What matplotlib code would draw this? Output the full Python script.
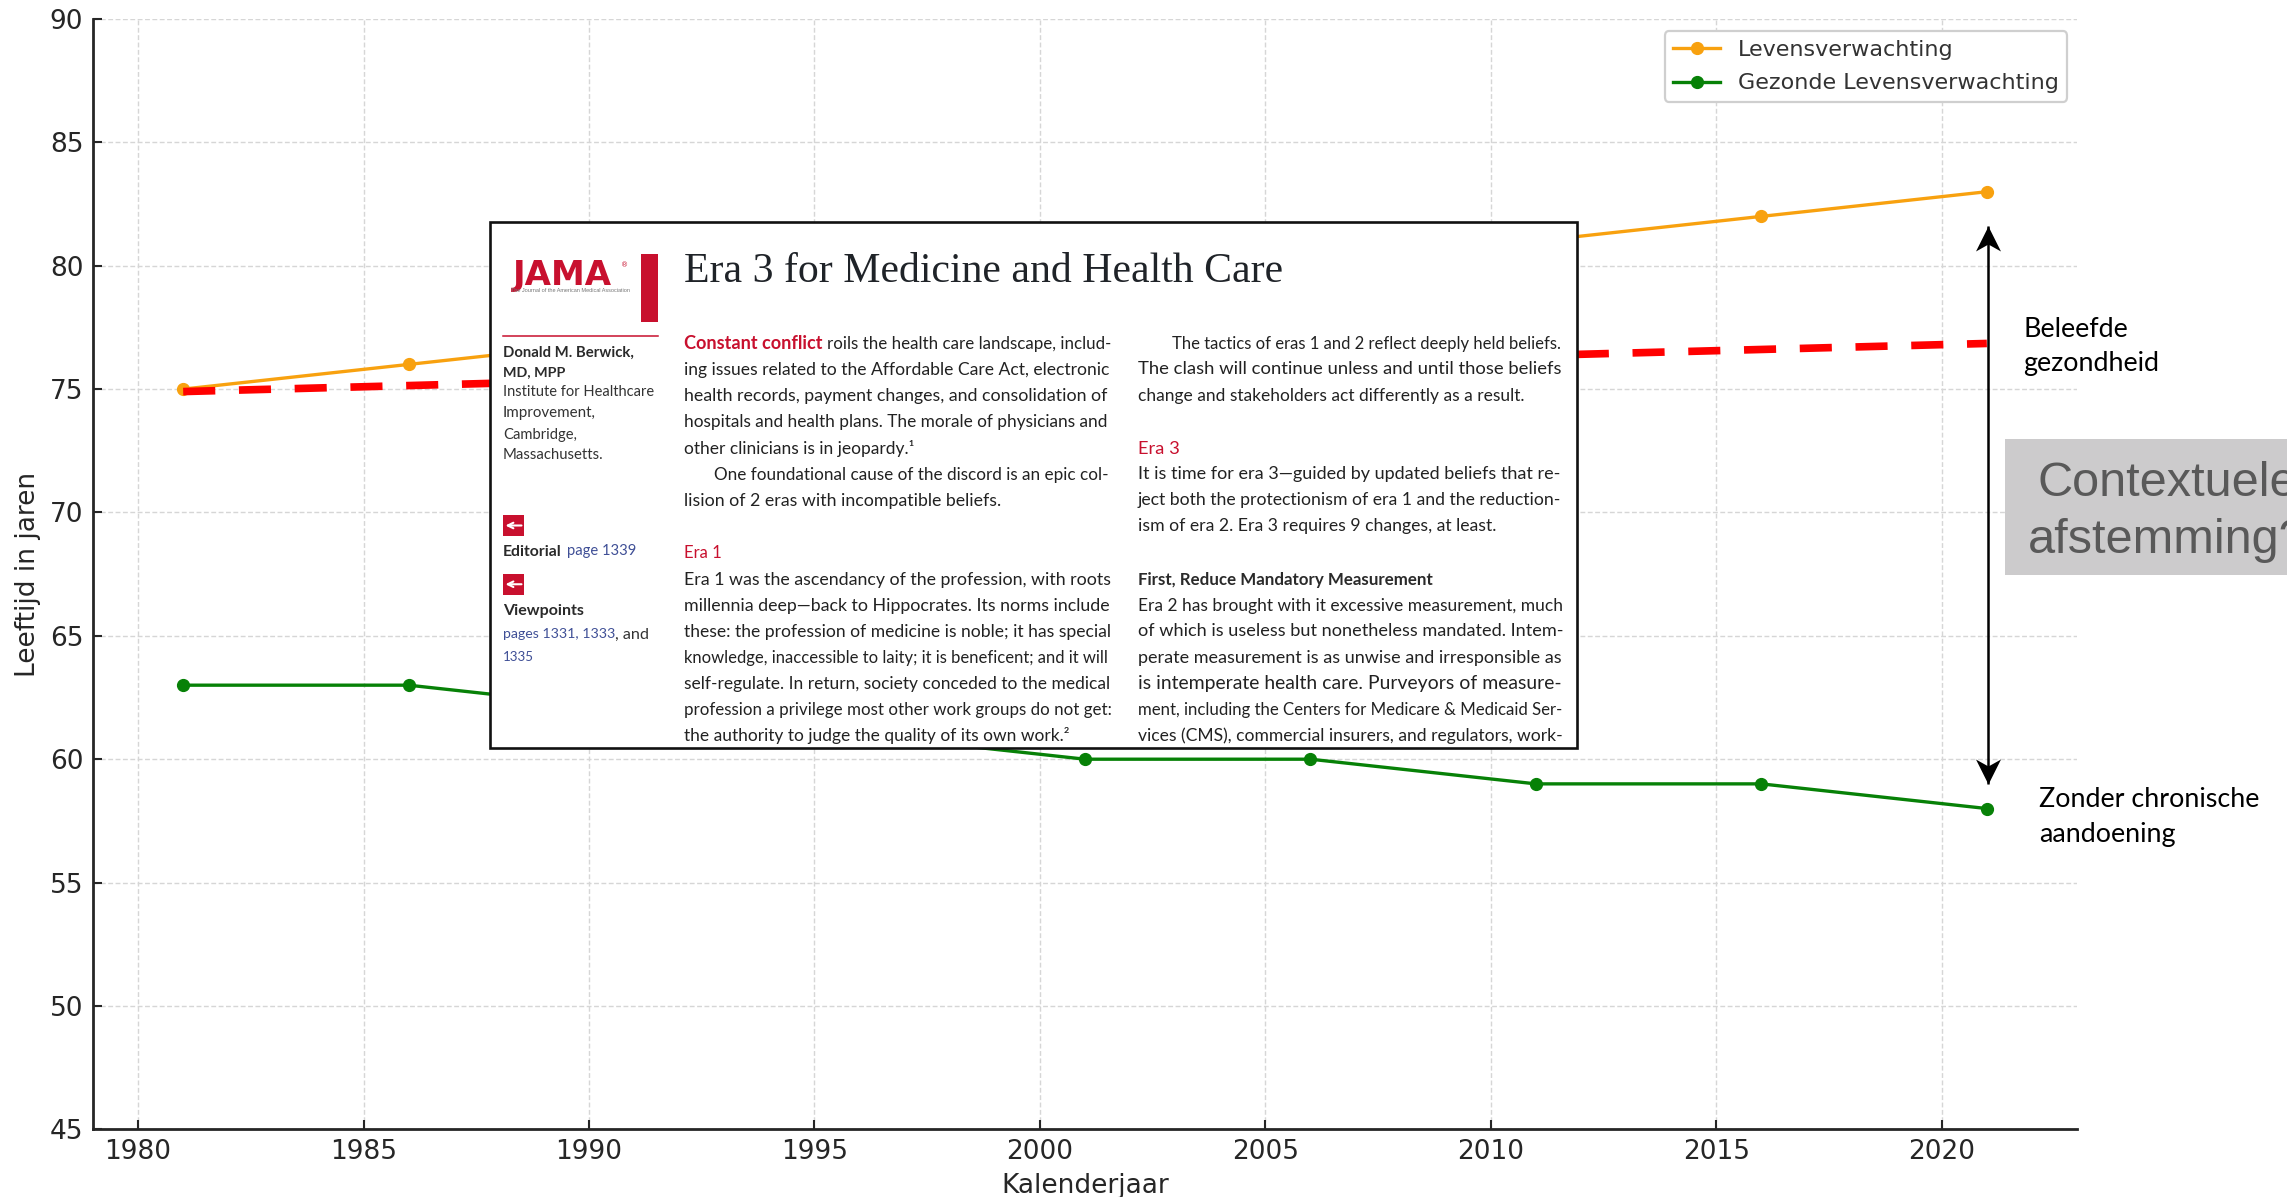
import matplotlib
matplotlib.use("Agg")
import matplotlib.pyplot as plt
from matplotlib.patches import Rectangle
from matplotlib.path import Path

W, H = 2287, 1197

# ---- data ----
years = [1981, 1986, 1991, 1996, 2001, 2006, 2011, 2016, 2021]
life_exp = [75, 76, 77, 78, 79, 80, 81, 82, 83]
healthy_exp = [63, 63, 62, 61, 60, 60, 59, 59, 58]
perceived_years = [1981, 2021]
perceived_health = [74.9, 76.85]
x_ticks = [1980, 1985, 1990, 1995, 2000, 2005, 2010, 2015, 2020]
y_ticks = [45, 50, 55, 60, 65, 70, 75, 80, 85, 90]
arrow_x = 2021.03
arrow_y = [59.0, 81.6]

title = "Era 3 for Medicine and Health Care"
sidebar_bold = [("Donald M. Berwick,", 351, 634), ("MD, MPP", 371, 565)]
sidebar_plain = [("Institute for Healthcare", 391, 654), ("Improvement,", 412, 596),
                 ("Cambridge,", 433, 577), ("Massachusetts.", 453.5, 603)]
col1 = [("One foundational cause of the discord is an epic col-", 714, 473.5, 1110),
        ("ing issues related to the Affordable Care Act, electronic", 684, 368, 1110),
        ("health records, payment changes, and consolidation of", 684, 395, 1110),
        ("hospitals and health plans. The morale of physicians and", 684, 421, 1110),
        ("other clinicians is in jeopardy.¹", 684, 447, 915),
        ("lision of 2 eras with incompatible beliefs.", 684, 499.5, 1002),
        ("Era 1 was the ascendancy of the profession, with roots", 684, 578, 1110),
        ("millennia deep—back to Hippocrates. Its norms include", 684, 604, 1110),
        ("these: the profession of medicine is noble; it has special", 684, 630, 1110),
        ("knowledge, inaccessible to laity; it is beneficent; and it will", 684, 656, 1110),
        ("self-regulate. In return, society conceded to the medical", 684, 682, 1110),
        ("profession a privilege most other work groups do not get:", 684, 708, 1110),
        ("the authority to judge the quality of its own work.²", 684, 734, 1071)]
col2 = [("The tactics of eras 1 and 2 reflect deeply held beliefs.", 1172, 342, 1563),
        ("The clash will continue unless and until those beliefs", 1138, 368, 1563),
        ("change and stakeholders act differently as a result.", 1138, 395, 1525),
        ("It is time for era 3—guided by updated beliefs that re-", 1138, 473, 1563),
        ("ject both the protectionism of era 1 and the reduction-", 1138, 499, 1563),
        ("ism of era 2. Era 3 requires 9 changes, at least.", 1138, 525, 1497),
        ("Era 2 has brought with it excessive measurement, much", 1138, 604, 1563),
        ("of which is useless but nonetheless mandated. Intem-", 1138, 630, 1563),
        ("perate measurement is as unwise and irresponsible as", 1138, 656, 1563),
        ("is intemperate health care. Purveyors of measure-", 1138, 682, 1563),
        ("ment, including the Centers for Medicare & Medicaid Ser-", 1138, 708, 1563),
        ("vices (CMS), commercial insurers, and regulators, work-", 1138, 734, 1563)]

ORANGE, GREEN, RED, DARK = "#F8A10F", "#078107", "#FF0000", "#262626"
JAMA_RED, LINK = "#C8102E", "#3F4F96"
BODY = "Lato"

fig = plt.figure(figsize=(W / 100, H / 100), dpi=100, facecolor="white")
ax = fig.add_axes([93 / W, 1 - 1129.3 / H, (2077 - 93) / W, (1129.3 - 19) / H])
ax.set_xlim(1979, 2023)
ax.set_ylim(45, 90)
ax.grid(True, color="#D6D6D6", ls=(0, (3.5, 1.8)), lw=1.0)
ax.set_axisbelow(True)
for s in ("top", "right"):
    ax.spines[s].set_visible(False)
for s in ("left", "bottom"):
    ax.spines[s].set_linewidth(2.0)
    ax.spines[s].set_color(DARK)
ax.set_xticks(x_ticks)
ax.set_yticks(y_ticks)
ax.tick_params(direction="in", length=6.5, width=1.5, labelsize=19, colors=DARK, pad=7)
ax.set_xlabel("Kalenderjaar", fontsize=19, color=DARK, labelpad=6)
ax.set_ylabel("Leeftijd in jaren", fontsize=19, color=DARK, labelpad=6)

ax.plot(years, life_exp, color=ORANGE, marker="o", ms=8.5, lw=2.4, label="Levensverwachting")
ax.plot(years, healthy_exp, color=GREEN, marker="o", ms=8.5, lw=2.4, label="Gezonde Levensverwachting")
ax.plot(perceived_years, perceived_health, color=RED, lw=5.5, ls=(0, (4.2, 3.1)),
        dash_capstyle="butt", zorder=4)

leg = ax.legend(loc="upper right", bbox_to_anchor=(0.995, 0.989), fontsize=16, framealpha=1,
                edgecolor="#CFCFCF", borderpad=0.38, labelspacing=0.62, handlelength=2.1,
                handletextpad=0.8, borderaxespad=0)
leg.get_frame().set_linewidth(1.6)
for t in leg.get_texts():
    t.set_color("#333333")

# double-headed arrow with barbed heads, tips placed on the data positions
head_up = Path([(0, 0), (-0.5, -1), (0, -0.72), (0.5, -1), (0, 0)],
               [Path.MOVETO, Path.LINETO, Path.LINETO, Path.LINETO, Path.CLOSEPOLY])
head_down = Path([(0, 0), (-0.5, 1), (0, 0.72), (0.5, 1), (0, 0)],
                 [Path.MOVETO, Path.LINETO, Path.LINETO, Path.LINETO, Path.CLOSEPOLY])
ax.plot([arrow_x, arrow_x], arrow_y, color="black", lw=1.8, zorder=5, solid_capstyle="butt")
ax.plot([arrow_x], [arrow_y[1]], marker=head_up, ms=36, color="black", mew=0, zorder=6)
ax.plot([arrow_x], [arrow_y[0]], marker=head_down, ms=36, color="black", mew=0, zorder=6)

# overlay in figure pixels
ov = fig.add_axes([0, 0, 1, 1], zorder=10)
ov.set_xlim(0, W)
ov.set_ylim(H, 0)
ov.axis("off")
ov.patch.set_alpha(0)

renderer = fig.canvas.get_renderer()


def fit(s, x, y, x2, size, **kw):
    """Left aligned text at pixel x, scaled to end at pixel x2."""
    t = ov.text(x, y, s, fontsize=size, va="center_baseline", ha="left", **kw)
    if x2 is not None:
        w = t.get_window_extent(renderer).width
        t.set_fontsize(min(size * (x2 - x) / w, 14.8))
    return t


# inset article
ov.add_patch(Rectangle((490, 222), 1577 - 490, 748 - 222, fc="white", ec="#111111", lw=1.9))
t = ov.text(684, 267, title, fontsize=31, family="Liberation Serif", color="#1F2328",
            va="center_baseline", ha="left")
t.set_fontsize(31 * (1281 - 684) / t.get_window_extent(renderer).width)
ov.add_patch(Rectangle((641, 253.5), 16.5, 68.5, fc=JAMA_RED, ec="none"))
ov.text(513, 272, "JAMA", fontsize=24.5, family="DejaVu Sans", weight="bold", color=JAMA_RED,
        va="center_baseline", ha="left")
ov.text(621, 265, "®", fontsize=5, family="DejaVu Sans", color=JAMA_RED, va="center_baseline")
ov.text(511, 290, "The Journal of the American Medical Association", fontsize=4,
        family="Liberation Sans", color="#777777", va="center_baseline")
ov.plot([503, 657.5], [336, 336], color=JAMA_RED, lw=1.1)

for s, y, x2 in sidebar_bold:
    fit(s, 503, y, x2, 12.5, family=BODY, weight="bold", color="#2A2A2A")
for s, y, x2 in sidebar_plain:
    fit(s, 503, y, x2, 12.5, family=BODY, color="#333333")

for y0, y1 in ((515, 536), (573.5, 595)):
    ov.add_patch(Rectangle((503, y0), 20.5, y1 - y0, fc=JAMA_RED, ec="none"))
    ym = (y0 + y1) / 2
    ov.annotate("", xy=(505.5, ym), xytext=(521.5, ym),
                arrowprops=dict(arrowstyle="->", color="white", lw=1.5, mutation_scale=10, shrinkA=0, shrinkB=0))

fit("Editorial", 503, 550, 562, 12.5, family=BODY, weight="bold", color="#2A2A2A")
fit("page 1339", 567, 550, 636, 12.5, family=BODY, color=LINK)
fit("Viewpoints", 503, 610, 584, 12.5, family=BODY, weight="bold", color="#2A2A2A")
fit("pages 1331, 1333", 503, 633, 615, 12.5, family=BODY, color=LINK)
fit(", and", 615, 633, 649, 12.5, family=BODY, color="#333333")
fit("1335", 503, 656, 534, 12.5, family=BODY, color=LINK)

fit("Constant conflict", 684, 342, 823, 14, family=BODY, weight="bold", color=JAMA_RED)
fit("roils the health care landscape, includ-", 827, 342, 1110, 14, family=BODY, color="#222222")
fit("Era 1", 684, 551, 722, 15, family=BODY, color=JAMA_RED)
fit("Era 3", 1138, 447, 1180, 15, family=BODY, color=JAMA_RED)
fit("First, Reduce Mandatory Measurement", 1138, 578, 1435, 14, family=BODY, weight="bold", color="#2A2A2A")
for s, x, y, x2 in col1 + col2:
    fit(s, x, y, x2, 14, family=BODY, color="#222222")

# side annotations
for s, x, y in (("Beleefde", 2023, 327), ("gezondheid", 2023, 361),
                ("Zonder chronische", 2039, 797), ("aandoening", 2039, 832)):
    ov.text(x, y, s, fontsize=19.4, family="Lato", va="center_baseline", color="black")

ov.add_patch(Rectangle((2005, 439), W - 2005, 575 - 439, fc="#CCCBCC", ec="none"))
ov.text(2038, 496, "Contextuele", fontsize=35, family="Liberation Sans", color="#595959", va="baseline", clip_on=True)
ov.text(2028, 553, "afstemming?", fontsize=35, family="Liberation Sans", color="#595959", va="baseline", clip_on=True)

fig.savefig("out.png", dpi=100, facecolor="white")
